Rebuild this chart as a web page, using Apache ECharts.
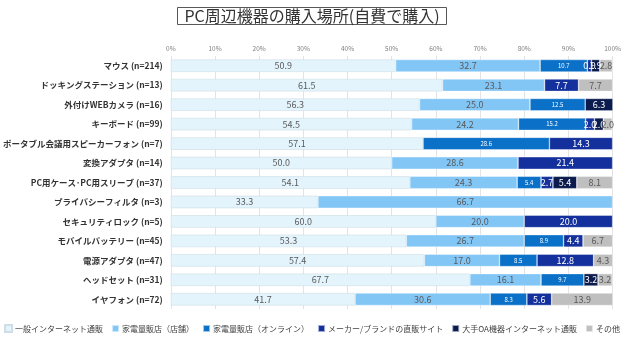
<!DOCTYPE html>
<html>
<head>
<meta charset="utf-8">
<script src="https://cdn.jsdelivr.net/npm/echarts@6/dist/echarts.min.js"></script>
<style>
  html, body { margin: 0; padding: 0; background: #fff; }
  #chart { width: 624px; height: 339px; }
</style>
</head>
<body>
<div id="chart"></div>
<script>
// Purchase place of PC peripherals (self-paid), shares in percent per item
const categories = [
  'マウス (n=214)',
  'ドッキングステーション (n=13)',
  '外付けWEBカメラ (n=16)',
  'キーボード (n=99)',
  'ポータブル会議用スピーカーフォン (n=7)',
  '変換アダプタ (n=14)',
  'PC用ケース･PC用スリーブ (n=37)',
  'プライバシーフィルタ (n=3)',
  'セキュリティロック (n=5)',
  'モバイルバッテリー (n=45)',
  '電源アダプタ (n=47)',
  'ヘッドセット (n=31)',
  'イヤフォン (n=72)'
];
const seriesNames = [
  '一般インターネット通販',
  '家電量販店（店舗）',
  '家電量販店（オンライン）',
  'メーカー/ブランドの直販サイト',
  '大手OA機器インターネット通販',
  'その他'
];
const netShop   = [50.9, 61.5, 56.3, 54.5, 57.1, 50.0, 54.1, 33.3, 60.0, 53.3, 57.4, 67.7, 41.7];
const storeShop = [32.7, 23.1, 25.0, 24.2, 0,    28.6, 24.3, 66.7, 20.0, 26.7, 17.0, 16.1, 30.6];
const storeWeb  = [10.7, 0,    12.5, 15.2, 28.6, 0,    5.4,  0,    0,    8.9,  8.5,  9.7,  8.3];
const makerSite = [0.9,  7.7,  0,    2.0,  14.3, 21.4, 2.7,  0,    20.0, 4.4,  12.8, 0,    5.6];
const oaShop    = [1.9,  0,    6.3,  2.0,  0,    0,    5.4,  0,    0,    0,    0,    3.2,  0];
const others    = [2.8,  7.7,  0,    2.0,  0,    0,    8.1,  0,    0,    6.7,  4.3,  3.2,  13.9];
const xTicks = [0, 10, 20, 30, 40, 50, 60, 70, 80, 90, 100];

const colors = ['#e3f4fc', '#82c6f6', '#0a70c8', '#13309c', '#0b1b4d', '#bfbfbf'];
const values = [netShop, storeShop, storeWeb, makerSite, oaShop, others];
const labelStyles = [
  { color: '#595959', fontSize: 9 },
  { color: '#595959', fontSize: 9 },
  { color: '#ffffff', fontSize: 6 },
  { color: '#ffffff', fontSize: 9 },
  { color: '#ffffff', fontSize: 9 },
  { color: '#595959', fontSize: 9 }
];

const FONT = '"Noto Sans CJK JP", "Noto Sans", sans-serif';

const chart = echarts.init(document.getElementById('chart'), null, { renderer: 'canvas' });

const series = seriesNames.map((name, i) => ({
  name: name,
  type: 'bar',
  stack: 'total',
  barWidth: '64%',
  data: values[i].map(v => (v === 0 ? null : v)),
  itemStyle: {
    color: colors[i],
    borderColor: i === 0 ? '#cfdde6' : 'rgba(255,255,255,0.6)',
    borderWidth: 0.6
  },
  label: {
    show: true,
    position: 'inside',
    fontFamily: FONT,
    color: labelStyles[i].color,
    fontSize: labelStyles[i].fontSize,
    formatter: p => (p.value == null ? '' : Number(p.value).toFixed(1))
  },
  emphasis: { disabled: true }
}));

chart.setOption({
  animation: false,
  textStyle: { fontFamily: FONT },
  title: {
    text: 'PC周辺機器の購入場所(自費で購入)',
    left: 'center',
    top: 7,
    padding: [0, 7, 0, 7],
    borderColor: '#595959',
    borderWidth: 1,
    textStyle: { fontFamily: FONT, fontSize: 16, lineHeight: 18, fontWeight: 'normal', color: '#333333' }
  },
  legend: {
    bottom: 6,
    left: 'center',
    padding: 0,
    itemWidth: 7,
    itemHeight: 7,
    itemGap: 8,
    icon: 'rect',
    data: seriesNames,
    textStyle: { fontFamily: FONT, fontSize: 8, color: '#404040', padding: [0, 0, 0, -2] }
  },
  grid: { left: 158, right: 10, top: 56, bottom: 30, containLabel: false },
  xAxis: {
    type: 'value',
    position: 'top',
    min: xTicks[0],
    max: xTicks[xTicks.length - 1],
    interval: xTicks[1] - xTicks[0],
    axisLine: { show: false },
    axisTick: { show: false },
    axisLabel: { formatter: '{value}%', fontSize: 6.5, color: '#7f7f7f', margin: 4, fontFamily: FONT },
    splitLine: { show: true, lineStyle: { color: '#e3e3e3', width: 1 } }
  },
  yAxis: {
    type: 'category',
    data: categories,
    inverse: true,
    axisLine: { show: false },
    axisTick: { show: false },
    axisLabel: { fontSize: 8.5, color: '#333333', fontWeight: 'bold', margin: 8, fontFamily: FONT }
  },
  series: series
});
</script>
</body>
</html>
